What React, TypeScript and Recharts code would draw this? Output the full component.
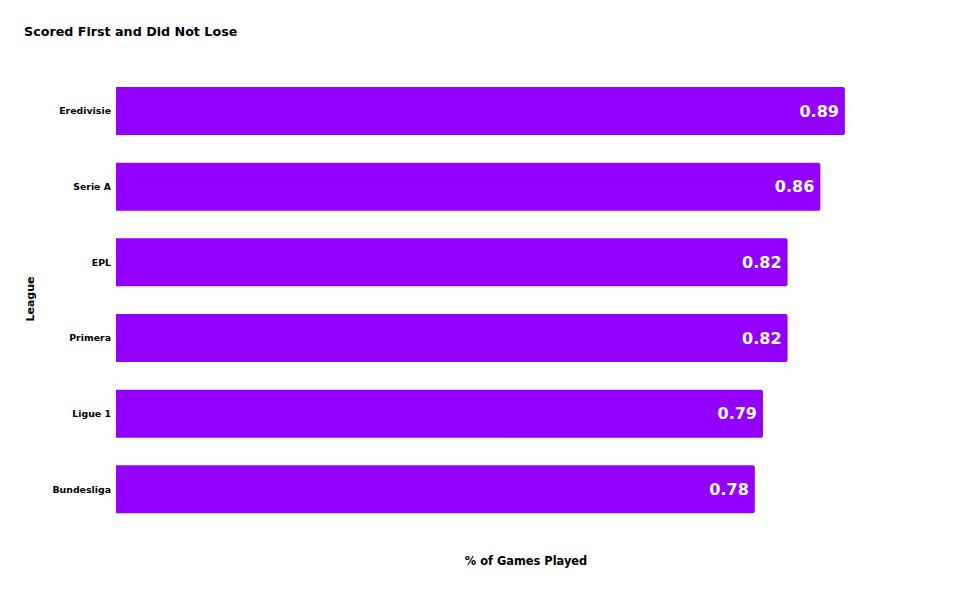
import { Bar, BarChart, LabelList, XAxis, YAxis } from "recharts";

const leagues = ["Eredivisie", "Serie A", "EPL", "Primera", "Ligue 1", "Bundesliga"];
const shares = [0.89, 0.86, 0.82, 0.82, 0.79, 0.78];

const data = leagues.map((league, i) => ({ league, share: shares[i] }));

const font = "Verdana, 'DejaVu Sans', sans-serif";

export default function App() {
  return (
    <div style={{ position: "absolute", left: 0, top: 0, width: 962, height: 595, fontFamily: font, background: "#fff" }}>
      <div style={{ position: "absolute", left: 24, top: 24, fontSize: 12.7, fontWeight: "bold", color: "#000" }}>
        Scored First and Did Not Lose
      </div>
      <div
        style={{
          position: "absolute",
          left: 30,
          top: 299,
          fontSize: 11,
          fontWeight: "bold",
          transform: "translate(-50%, -50%) rotate(-90deg)",
          whiteSpace: "nowrap"
        }}
      >
        League
      </div>
      <div
        style={{
          position: "absolute",
          left: 526,
          top: 561,
          fontSize: 11.4,
          fontWeight: "bold",
          transform: "translate(-50%, -50%)",
          whiteSpace: "nowrap"
        }}
      >
        % of Games Played
      </div>
      <BarChart
        data={data}
        height={595}
        layout="vertical"
        margin={{ top: 73, right: 27, bottom: 68, left: 0 }}
        style={{ position: "absolute", left: 0, top: 0 }}
        width={962}
      >
        <XAxis domain={[0, 1]} hide type="number" />
        <YAxis
          axisLine={false}
          dataKey="league"
          tick={{ fill: "#000", fontSize: 9.4, fontWeight: "bold", fontFamily: font }}
          tickLine={false}
          tickMargin={5}
          tickSize={0}
          type="category"
          width={116}
        />
        <Bar barSize={48} dataKey="share" fill="#9400ff" isAnimationActive={false} radius={[0, 2, 2, 0]}>
          <LabelList
            dataKey="share"
            fill="#fff"
            fontFamily={font}
            fontSize={16}
            fontWeight="bold"
            formatter={(v: number) => v.toFixed(2)}
            offset={6}
            position="insideRight"
          />
        </Bar>
      </BarChart>
    </div>
  );
}
